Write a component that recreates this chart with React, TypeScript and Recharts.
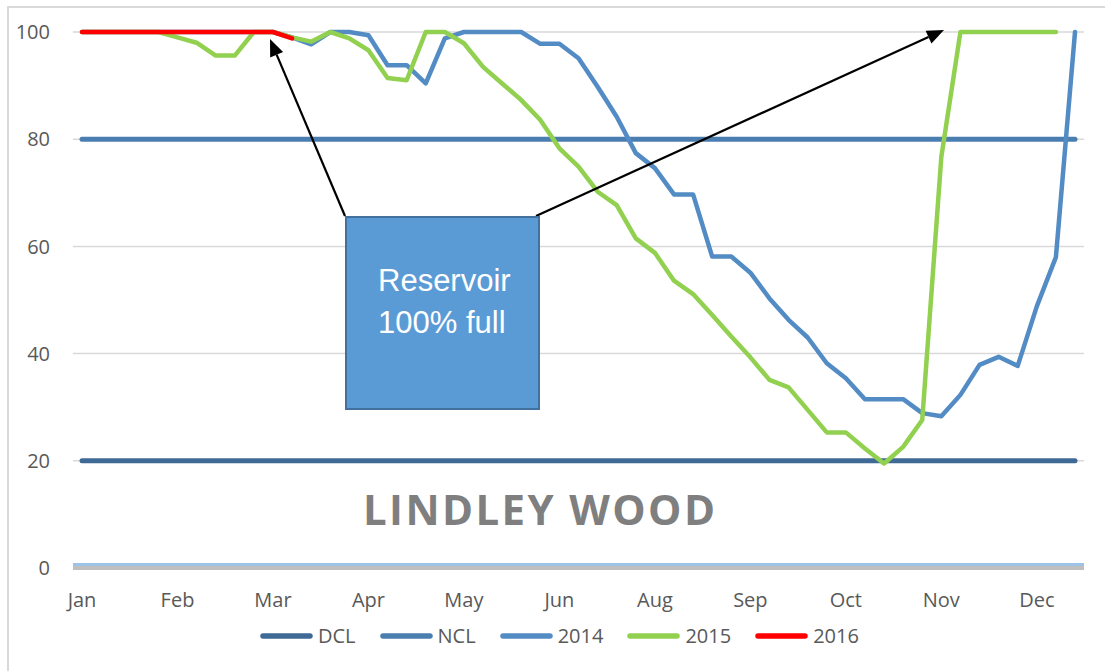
import React from 'react';
import { LineChart, Line, XAxis, YAxis, CartesianGrid, Legend, ReferenceLine } from 'recharts';

// 53 weekly categories
const weeks = [
  1, 2, 3, 4, 5, 6, 7, 8, 9, 10, 11, 12, 13, 14, 15, 16, 17, 18, 19, 20,
  21, 22, 23, 24, 25, 26, 27, 28, 29, 30, 31, 32, 33, 34, 35, 36, 37, 38, 39, 40,
  41, 42, 43, 44, 45, 46, 47, 48, 49, 50, 51, 52, 53,
];

// tick weeks and their month labels
const tickWeeks = [1, 6, 11, 16, 21, 26, 31, 36, 41, 46, 51];
const monthLabels = ['Jan', 'Feb', 'Mar', 'Apr', 'May', 'Jun', 'Aug', 'Sep', 'Oct', 'Nov', 'Dec'];
const yTicks = [0, 20, 40, 60, 80, 100];
const seriesNames = ['DCL', 'NCL', '2014', '2015', '2016'];

const dcl = [
  20, 20, 20, 20, 20, 20, 20, 20, 20, 20, 20, 20, 20, 20, 20, 20, 20, 20, 20, 20,
  20, 20, 20, 20, 20, 20, 20, 20, 20, 20, 20, 20, 20, 20, 20, 20, 20, 20, 20, 20,
  20, 20, 20, 20, 20, 20, 20, 20, 20, 20, 20, 20, 20,
];

const ncl = [
  80, 80, 80, 80, 80, 80, 80, 80, 80, 80, 80, 80, 80, 80, 80, 80, 80, 80, 80, 80,
  80, 80, 80, 80, 80, 80, 80, 80, 80, 80, 80, 80, 80, 80, 80, 80, 80, 80, 80, 80,
  80, 80, 80, 80, 80, 80, 80, 80, 80, 80, 80, 80, 80,
];

const y2014 = [
  100, 100, 100, 100, 100, 100, 100, 100, 100, 100, 100, 99, 97.7, 100, 100, 99.4, 93.8, 93.8, 90.4, 98.8,
  100, 100, 100, 100, 97.8, 97.8, 95.1, 89.8, 84.2, 77.4, 74.6, 69.7, 69.7, 58.1, 58.1, 55.1, 50.3, 46.3, 43.0, 38.2,
  35.4, 31.5, 31.5, 31.5, 28.9, 28.3, 32.3, 37.9, 39.4, 37.7, 48.8, 58.0, 100,
];

const y2015 = [
  100, 100, 100, 100, 100, 99, 98, 95.6, 95.6, 100, 100, 99, 98.2, 100, 98.8, 96.6, 91.4, 91.0, 100, 100,
  97.9, 93.5, 90.4, 87.3, 83.6, 78.3, 74.9, 70.2, 67.7, 61.5, 58.8, 53.6, 51.1, 47.2, 43.2, 39.3, 35.1, 33.7, 29.5, 25.3,
  25.3, 22.3, 19.5, 22.6, 27.6, 76.7, 100, 100, 100, 100, 100, 100, null,
];

const y2016 = [
  100, 100, 100, 100, 100, 100, 100, 100, 100, 100, 100, 98.8, null, null, null, null, null, null, null, null,
  null, null, null, null, null, null, null, null, null, null, null, null, null, null, null, null, null, null, null, null,
  null, null, null, null, null, null, null, null, null, null, null, null, null,
];

const data = weeks.map((w, i) => ({
  week: w,
  DCL: dcl[i],
  NCL: ncl[i],
  '2014': y2014[i],
  '2015': y2015[i],
  '2016': y2016[i],
}));

const FONT = '"Open Sans", "Noto Sans", Arial, sans-serif';
const TEXT = '#595959';

const tickLabel = (v: number) => {
  const k = tickWeeks.indexOf(v);
  return k >= 0 ? monthLabels[k] : '';
};

const renderLegend = (props: any) => {
  const payload = [...(props.payload || [])].sort(
    (a: any, b: any) => seriesNames.indexOf(String(a.value)) - seriesNames.indexOf(String(b.value))
  );
  return (
    <div style={{ display: 'flex', alignItems: 'center', height: 28, paddingLeft: 260 }}>
      {payload.map((p: any) => (
        <div key={p.value} style={{ display: 'flex', alignItems: 'center', marginRight: 24 }}>
          <svg width={53} height={8} style={{ display: 'block' }}>
            <line x1={3} y1={4} x2={50} y2={4} stroke={p.color} strokeWidth={5.5} strokeLinecap="round" />
          </svg>
          <span style={{ marginLeft: 5, fontSize: 20, color: TEXT, fontFamily: FONT, lineHeight: '28px' }}>{p.value}</span>
        </div>
      ))}
    </div>
  );
};

function Arrow({ x1, y1, x2, y2 }: { x1: number; y1: number; x2: number; y2: number }) {
  const dx = x2 - x1;
  const dy = y2 - y1;
  const len = Math.sqrt(dx * dx + dy * dy);
  const ux = dx / len;
  const uy = dy / len;
  const L = 17;
  const W = 7;
  const bx = x2 - ux * L;
  const by = y2 - uy * L;
  const nx = -uy;
  const ny = ux;
  return (
    <g>
      <line x1={x1} y1={y1} x2={bx} y2={by} stroke="#000" strokeWidth={2.2} />
      <polygon
        points={`${x2},${y2} ${bx + nx * W},${by + ny * W} ${bx - nx * W},${by - ny * W}`}
        fill="#000"
      />
    </g>
  );
}

export default function App() {
  return (
    <div style={{ position: 'absolute', left: 0, top: 0, width: 1105, height: 671, background: '#fff', overflow: 'hidden' }}>
      <div
        style={{
          position: 'absolute',
          left: 7,
          top: 6,
          width: 1300,
          height: 900,
          borderLeft: '2px solid #D9D9D9',
          borderTop: '2px solid #D9D9D9',
          boxSizing: 'border-box',
        }}
      />
      <div style={{ position: 'absolute', left: 0, top: 0 }}>
        <LineChart
          width={1105}
          height={671}
          data={data}
          margin={{ top: 32, right: 21, left: 13, bottom: 63 }}
        >
          <CartesianGrid vertical={false} stroke="#D9D9D9" strokeWidth={1.5} />
          <XAxis
            dataKey="week"
            ticks={tickWeeks}
            interval={0}
            tickFormatter={tickLabel}
            padding={{ left: 9, right: 9 }}
            height={40}
            tickLine={false}
            tickMargin={19}
            axisLine={{ stroke: '#BFBFBF', strokeWidth: 4 }}
            tick={{ fill: TEXT, fontSize: 20, fontFamily: FONT }}
          />
          <YAxis
            domain={[0, 100]}
            ticks={yTicks}
            width={60}
            axisLine={false}
            tickLine={false}
            tickMargin={17}
            tick={{ fill: TEXT, fontSize: 20, fontFamily: FONT }}
          />
          <ReferenceLine
            y={0}
            stroke="#9DC3E6"
            strokeWidth={3}
            shape={(p: any) => (
              <line x1={p.x1} y1={p.y1 - 3.5} x2={p.x2} y2={p.y2 - 3.5} stroke="#9DC3E6" strokeWidth={2.8} />
            )}
          />
          <Legend
            layout="horizontal"
            verticalAlign="middle"
            align="center"
            wrapperStyle={{ top: 622, left: 0, width: 1105, height: 28 }}
            content={renderLegend}
          />
          <Line dataKey="DCL" name="DCL" stroke="#3E6A95" strokeWidth={5} dot={false} activeDot={false} strokeLinecap="round" strokeLinejoin="round" isAnimationActive={false} />
          <Line dataKey="NCL" name="NCL" stroke="#4A7DB0" strokeWidth={5} dot={false} activeDot={false} strokeLinecap="round" strokeLinejoin="round" isAnimationActive={false} />
          <Line dataKey="2014" name="2014" stroke="#538CC4" strokeWidth={4.5} dot={false} activeDot={false} strokeLinecap="round" strokeLinejoin="round" isAnimationActive={false} />
          <Line dataKey="2015" name="2015" stroke="#92D050" strokeWidth={4.5} dot={false} activeDot={false} strokeLinecap="round" strokeLinejoin="round" isAnimationActive={false} />
          <Line dataKey="2016" name="2016" stroke="#FF0000" strokeWidth={4.5} dot={false} activeDot={false} strokeLinecap="round" strokeLinejoin="round" isAnimationActive={false} />
        </LineChart>
      </div>
      <svg
        width={1105}
        height={671}
        style={{ position: 'absolute', left: 0, top: 0, pointerEvents: 'none' }}
      >
        <Arrow x1={345} y1={216} x2={270} y2={39} />
        <Arrow x1={536} y1={216} x2={944} y2={30} />
        <rect x={346} y={217} width={193} height={192} fill="#5B9BD5" stroke="#41719C" strokeWidth={2} />
        <text x={378} y={291} fill="#fff" fontSize={31} fontFamily='"Liberation Sans", Arial, sans-serif'>
          Reservoir
        </text>
        <text x={378} y={333} fill="#fff" fontSize={31} fontFamily='"Liberation Sans", Arial, sans-serif'>
          100% full
        </text>
        <text
          x={363}
          y={525}
          fill="#7F7F7F"
          fontSize={42}
          fontWeight="bold"
          fontFamily={FONT}
          textLength={352}
          lengthAdjust="spacing"
        >
          LINDLEY WOOD
        </text>
      </svg>
    </div>
  );
}
